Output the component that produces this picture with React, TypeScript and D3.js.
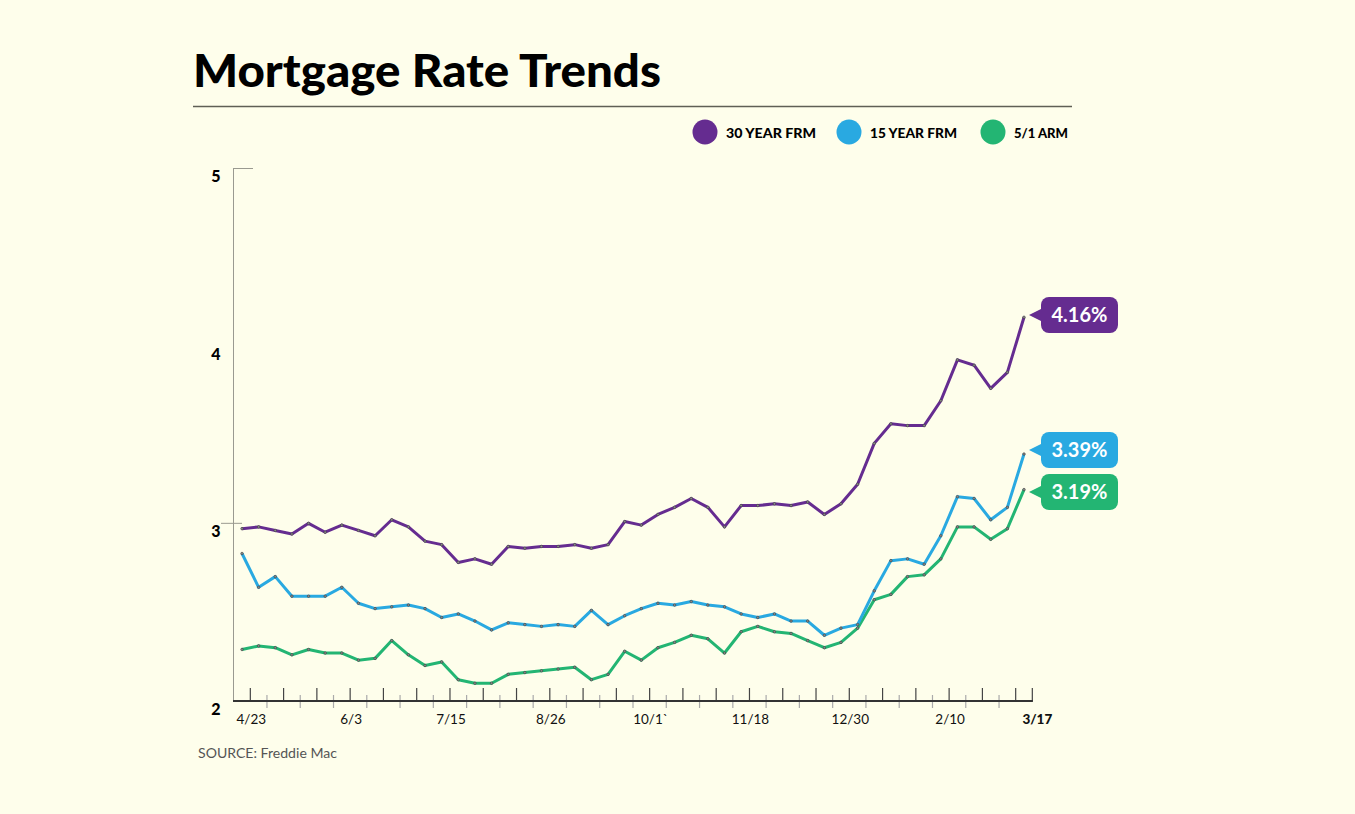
import React, { useEffect, useRef } from 'react';
import * as d3 from 'd3';

// weekly values, 4/23 through 3/17
const rate30 = [2.97, 2.98, 2.96, 2.94, 3.0, 2.95, 2.99, 2.96, 2.93, 3.02, 2.98, 2.9, 2.88, 2.78, 2.8, 2.77, 2.87, 2.86, 2.87, 2.87, 2.88, 2.86, 2.88, 3.01, 2.99, 3.05, 3.09, 3.14, 3.09, 2.98, 3.1, 3.1, 3.11, 3.1, 3.12, 3.05, 3.11, 3.22, 3.45, 3.56, 3.55, 3.55, 3.69, 3.92, 3.89, 3.76, 3.85, 4.16];
const rate15 = [2.83, 2.64, 2.7, 2.59, 2.59, 2.59, 2.64, 2.55, 2.52, 2.53, 2.54, 2.52, 2.47, 2.49, 2.45, 2.4, 2.44, 2.43, 2.42, 2.43, 2.42, 2.51, 2.43, 2.48, 2.52, 2.55, 2.54, 2.56, 2.54, 2.53, 2.49, 2.47, 2.49, 2.45, 2.45, 2.37, 2.41, 2.43, 2.62, 2.79, 2.8, 2.77, 2.93, 3.15, 3.14, 3.02, 3.09, 3.39];
const arm51 = [2.29, 2.31, 2.3, 2.26, 2.29, 2.27, 2.27, 2.23, 2.24, 2.34, 2.26, 2.2, 2.22, 2.12, 2.1, 2.1, 2.15, 2.16, 2.17, 2.18, 2.19, 2.12, 2.15, 2.28, 2.23, 2.3, 2.33, 2.37, 2.35, 2.27, 2.39, 2.42, 2.39, 2.38, 2.34, 2.3, 2.33, 2.41, 2.57, 2.6, 2.7, 2.71, 2.8, 2.98, 2.98, 2.91, 2.97, 3.19];

const tickLabels = ['4/23', '6/3', '7/15', '8/26', '10/1`', '11/18', '12/30', '2/10', '3/17'];
const tickWeeks = [0, 6, 12, 18, 24, 30, 36, 42, 47];
const yTicks = [2, 3, 4, 5];

const seriesNames = ['30 YEAR FRM', '15 YEAR FRM', '5/1 ARM'];
const seriesColors = ['#652c90', '#29a9e1', '#23b573'];

const W = 1355;
const H = 814;
const BG = '#fefeeb';
const FONT = 'Lato, "Open Sans", sans-serif';

export default function App() {
  const svgRef = useRef<SVGSVGElement>(null);

  useEffect(() => {
    const svg = d3.select(svgRef.current);
    svg.selectAll('*').remove();

    const x = d3.scaleLinear().domain([0, rate30.length - 1]).range([242, 1024]);
    const y = d3.scaleLinear().domain([2, 5]).range([701, 168]);

    svg.append('rect').attr('width', W).attr('height', H).attr('fill', BG);

    // title
    svg.append('text')
      .attr('x', 193).attr('y', 87)
      .attr('font-family', FONT).attr('font-weight', 900).attr('font-size', 45)
      .attr('textLength', 468).attr('lengthAdjust', 'spacingAndGlyphs')
      .attr('fill', '#000')
      .text('Mortgage Rate Trends');
    svg.append('line')
      .attr('x1', 193).attr('x2', 1072).attr('y1', 106.5).attr('y2', 106.5)
      .attr('stroke', '#5f5f55').attr('stroke-width', 1.3);

    // legend
    const legendX = [705, 849, 993];
    const legendW = [90, 87, 54];
    seriesNames.forEach((name, i) => {
      svg.append('circle').attr('cx', legendX[i]).attr('cy', 132).attr('r', 12.5).attr('fill', seriesColors[i]);
      svg.append('text')
        .attr('x', legendX[i] + 21).attr('y', 137.5)
        .attr('font-family', FONT).attr('font-weight', 900).attr('font-size', 13)
        .attr('textLength', legendW[i]).attr('lengthAdjust', 'spacingAndGlyphs')
        .attr('fill', '#000')
        .text(name);
    });

    // y axis
    svg.append('line')
      .attr('x1', 233.5).attr('x2', 233.5).attr('y1', y(5)).attr('y2', y(2))
      .attr('stroke', '#9a9a90').attr('stroke-width', 1);
    svg.append('line')
      .attr('x1', 233.5).attr('x2', 253).attr('y1', y(5) + 0.5).attr('y2', y(5) + 0.5)
      .attr('stroke', '#9a9a90').attr('stroke-width', 1);
    svg.append('line')
      .attr('x1', 221).attr('x2', 242).attr('y1', y(3)).attr('y2', y(3))
      .attr('stroke', '#9a9a90').attr('stroke-width', 1);
    svg.append('g').selectAll('text').data(yTicks).enter().append('text')
      .attr('x', 216).attr('y', d => y(d) + 14)
      .attr('text-anchor', 'middle')
      .attr('font-family', FONT).attr('font-weight', 900).attr('font-size', 16)
      .attr('fill', '#000')
      .text(d => d);

    // x axis ticks sit between the weekly points
    const ticks = d3.range(rate30.length);
    const tall = (d: number) => d % 2 === 0 || d === ticks.length - 1;
    svg.append('g').selectAll('line').data(ticks).enter().append('line')
      .attr('x1', d => x(d + 0.5)).attr('x2', d => x(d + 0.5))
      .attr('y1', d => (tall(d) ? 688 : 695))
      .attr('y2', d => (tall(d) ? 701 : 708))
      .attr('stroke', d => (tall(d) ? '#444' : '#aaa'))
      .attr('stroke-width', 1.2);
    svg.append('line')
      .attr('x1', 233).attr('x2', x(47.5) + 0.6).attr('y1', 701).attr('y2', 701)
      .attr('stroke', '#333').attr('stroke-width', 2);

    svg.append('g').selectAll('text').data(tickWeeks).enter().append('text')
      .attr('x', (d, i) => x(d + 0.5) + (i === tickWeeks.length - 1 ? 5 : 1))
      .attr('y', 724)
      .attr('text-anchor', 'middle')
      .attr('font-family', FONT)
      .attr('font-weight', (d, i) => (i === tickWeeks.length - 1 ? 900 : 400))
      .attr('font-size', 13.5)
      .attr('fill', '#111')
      .text((d, i) => tickLabels[i]);

    svg.append('text')
      .attr('x', 198).attr('y', 758)
      .attr('font-family', FONT).attr('font-size', 14)
      .attr('textLength', 139).attr('lengthAdjust', 'spacingAndGlyphs')
      .attr('fill', '#555')
      .text('SOURCE: Freddie Mac');

    // lines
    const line = d3.line<number>().x((d, i) => x(i)).y(d => y(d));
    const series = [arm51, rate15, rate30];
    const colors = [seriesColors[2], seriesColors[1], seriesColors[0]];
    series.forEach((s, si) => {
      svg.append('path')
        .datum(s)
        .attr('d', line)
        .attr('fill', 'none')
        .attr('stroke', colors[si])
        .attr('stroke-width', 3)
        .attr('stroke-linejoin', 'round');
      svg.append('g').selectAll('circle').data(s).enter().append('circle')
        .attr('cx', (d, i) => x(i)).attr('cy', d => y(d))
        .attr('r', 1.3)
        .attr('fill', '#888')
        .attr('stroke', '#333')
        .attr('stroke-width', 0.5);
    });

    // end value callouts
    const last = rate30.length - 1;
    const callouts = [rate30, rate15, arm51];
    const boxY = [297, 432, 474];
    callouts.forEach((s, i) => {
      const v = s[last];
      const top = boxY[i];
      const tipY = top + 18;
      const g = svg.append('g');
      g.append('rect')
        .attr('x', 1041).attr('y', top).attr('width', 77).attr('height', 36)
        .attr('rx', 8).attr('fill', seriesColors[i]);
      g.append('path')
        .attr('d', `M${x(last) + 5},${tipY} L1043,${tipY - 7} L1043,${tipY + 7} Z`)
        .attr('fill', seriesColors[i]);
      g.append('text')
        .attr('x', 1079.5).attr('y', top + 25)
        .attr('text-anchor', 'middle')
        .attr('font-family', FONT).attr('font-weight', 700).attr('font-size', 20)
        .attr('fill', '#fff')
        .text(`${v.toFixed(2)}%`);
    });
  }, []);

  return (
    <svg ref={svgRef} width={W} height={H} style={{ position: 'absolute', left: 0, top: 0 }}></svg>
  );
}
